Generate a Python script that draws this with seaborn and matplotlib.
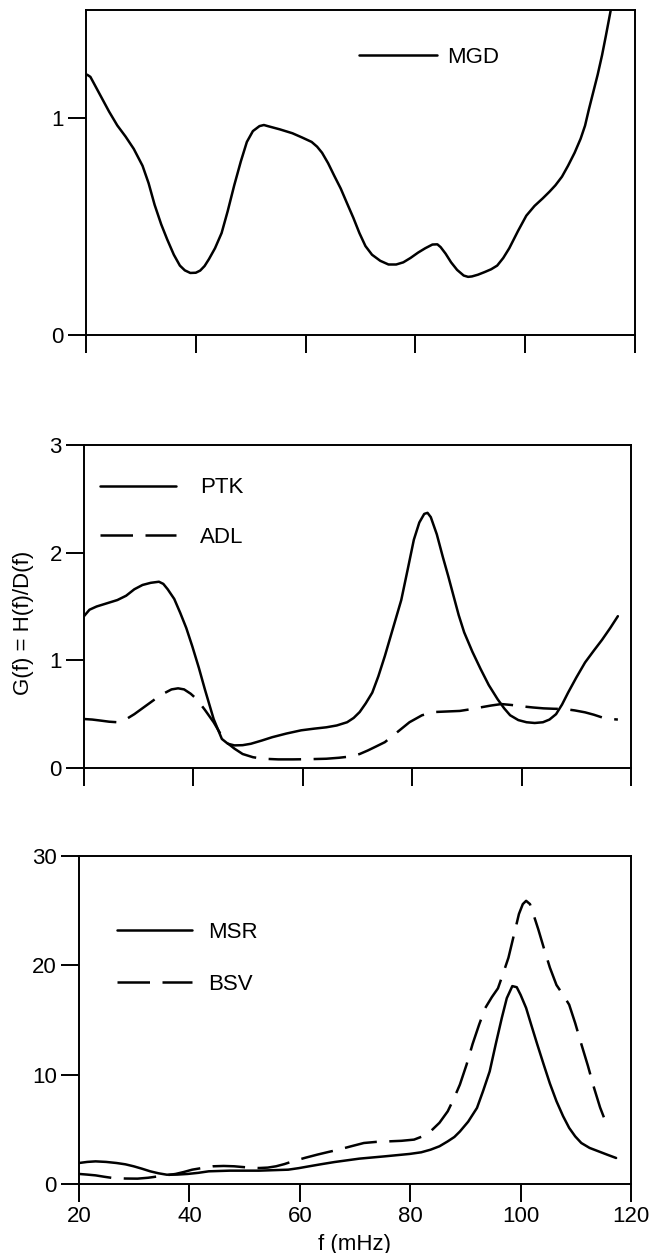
import matplotlib
matplotlib.use("Agg")
import matplotlib.pyplot as plt
import seaborn as sns

# ---- data: G(f) = H(f)/D(f) per subject, f in mHz ----
mgd_f = [20.2, 20.8, 22.5, 24.2, 25.7, 27.2, 28.7, 30.3, 31.4, 32.5, 33.7, 34.8, 36.0,
         37.1, 38.0, 39.0, 40.0, 40.8, 41.6, 42.4, 43.5, 44.7, 45.8, 47.0, 48.2,
         49.3, 50.4, 51.6, 52.4, 53.1, 55.3, 57.6, 59.4, 61.1, 62.1, 63.0, 64.1,
         65.2, 66.4, 67.5, 68.7, 69.8, 70.9, 72.1, 73.6, 75.1, 76.5, 77.8, 79.1,
         80.5, 81.8, 83.1, 84.0, 84.6, 85.5, 86.5, 87.6, 88.8, 89.6, 90.3, 91.4,
         92.6, 93.8, 94.9, 96.0, 97.1, 98.7, 100.2, 101.7, 103.2, 104.4, 105.5,
         106.7, 107.8, 109.0, 110.1, 110.9, 111.6, 112.4, 113.2, 114.0, 114.7,
         115.6, 116.5]
mgd_g = [1.20, 1.19, 1.11, 1.03, 0.966, 0.915, 0.858, 0.78, 0.70, 0.60, 0.51, 0.44, 0.37,
         0.32, 0.298, 0.286, 0.287, 0.297, 0.318, 0.35, 0.40, 0.47, 0.57, 0.69, 0.80,
         0.89, 0.94, 0.963, 0.968, 0.963, 0.948, 0.93, 0.91, 0.89, 0.868, 0.84, 0.792,
         0.735, 0.675, 0.61, 0.54, 0.47, 0.41, 0.37, 0.342, 0.325, 0.325, 0.335, 0.355,
         0.38, 0.40, 0.417, 0.418, 0.405, 0.375, 0.335, 0.30, 0.274, 0.268, 0.27, 0.278,
         0.29, 0.303, 0.32, 0.355, 0.40, 0.48, 0.55, 0.595, 0.63, 0.66, 0.69,
         0.73, 0.78, 0.84, 0.905, 0.965, 1.04, 1.12, 1.20, 1.29, 1.38,
         1.50, 1.62]

ptk_f = [20.0, 21.0, 22.3, 24.2, 26.1, 27.7, 29.2, 30.7, 32.2, 33.7, 34.5, 35.3, 36.5,
         37.6, 38.7, 39.8, 41.0, 42.1, 43.7, 45.2, 46.3, 47.5, 49.0, 50.5, 52.5, 54.4,
         57.0, 59.7, 62.0, 64.3, 66.2, 68.1, 69.3, 70.4, 71.5, 72.7, 73.8, 75.0, 76.5,
         78.0, 79.2, 80.3, 81.3, 82.2, 82.8, 83.4, 84.5, 85.6, 86.6, 87.6, 88.5, 89.5,
         91.0, 92.5, 94.0, 95.6, 96.8, 97.9, 99.4, 100.9, 102.4, 103.9, 105.1, 106.3,
         107.4, 108.5, 110.0, 111.6, 113.2, 114.7, 116.2, 117.6]
ptk_g = [1.41, 1.47, 1.50, 1.53, 1.56, 1.60, 1.66, 1.70, 1.72, 1.73, 1.71, 1.66, 1.57,
         1.44, 1.30, 1.13, 0.93, 0.73, 0.455, 0.27, 0.225, 0.21, 0.212, 0.225, 0.255, 0.286,
         0.32, 0.35, 0.365, 0.378, 0.395, 0.425, 0.465, 0.52, 0.60, 0.70, 0.85, 1.04, 1.30,
         1.56, 1.85, 2.12, 2.28, 2.36, 2.37, 2.33, 2.17, 1.96, 1.78, 1.59, 1.42, 1.26,
         1.08, 0.92, 0.77, 0.64, 0.555, 0.49, 0.445, 0.425, 0.418, 0.425, 0.45, 0.50,
         0.59, 0.70, 0.84, 0.98, 1.09, 1.19, 1.30, 1.41]

adl_f = [20.0, 21.5, 23.1, 24.6, 26.1, 27.6, 29.2, 31.1, 33.0, 34.5, 36.0, 37.2, 38.3,
         39.5, 40.6, 42.1, 43.7, 44.8, 46.0, 47.5, 49.0, 50.9, 52.8, 55.5, 58.2, 61.2,
         64.3, 66.6, 68.9, 70.4, 71.9, 73.4, 75.0, 77.2, 79.5, 81.8, 84.1, 86.4, 88.7,
         90.6, 92.5, 94.4, 96.3, 98.2, 100.2, 102.1, 104.0, 105.9, 107.8, 109.7, 111.6,
         113.2, 114.7, 116.2, 117.6]
adl_g = [0.455, 0.45, 0.44, 0.43, 0.425, 0.45, 0.50, 0.57, 0.64, 0.69, 0.73, 0.74, 0.73,
         0.69, 0.64, 0.54, 0.425, 0.33, 0.24, 0.18, 0.13, 0.10, 0.086, 0.08, 0.08, 0.082,
         0.086, 0.095, 0.108, 0.13, 0.163, 0.20, 0.24, 0.33, 0.425, 0.49, 0.52, 0.525, 0.53,
         0.545, 0.563, 0.58, 0.594, 0.585, 0.572, 0.562, 0.554, 0.55, 0.548, 0.535, 0.517,
         0.495, 0.47, 0.455, 0.45]

msr_f = [20.0, 21.5, 23.0, 24.9, 26.8, 28.4, 29.9, 31.4, 32.9, 34.4, 35.9, 37.8, 39.7,
         41.6, 43.5, 47.3, 52.6, 57.9, 59.8, 61.7, 64.0, 66.3, 70.8, 75.4, 79.9, 82.0,
         83.7, 85.3, 86.8, 88.0, 89.0, 90.5, 92.1, 93.2, 94.4, 95.5, 96.6, 97.5, 98.5,
         99.3, 100.0, 101.0, 101.9, 103.0, 104.2, 105.3, 106.5, 107.7, 108.8, 109.9,
         111.0, 112.5, 114.1, 115.7, 117.3]
msr_g = [1.92, 2.02, 2.07, 2.02, 1.92, 1.80, 1.62, 1.40, 1.16, 0.98, 0.85, 0.86, 0.92,
         1.02, 1.16, 1.22, 1.22, 1.31, 1.45, 1.62, 1.82, 2.01, 2.32, 2.53, 2.75, 2.90,
         3.14, 3.45, 3.90, 4.30, 4.80, 5.70, 6.96, 8.50, 10.3, 12.8, 15.2, 17.0, 18.1,
         18.0, 17.3, 16.1, 14.6, 12.8, 10.9, 9.2, 7.57, 6.20, 5.13, 4.35, 3.75, 3.30,
         2.99, 2.68, 2.38]

bsv_f = [20.0, 21.5, 23.0, 24.6, 26.1, 28.4, 30.6, 32.5, 34.4, 36.0, 37.5, 39.0, 40.5,
         42.4, 44.3, 46.2, 48.1, 50.4, 52.6, 54.2, 55.7, 57.2, 58.7, 61.0, 63.2, 65.1,
         67.0, 69.3, 71.6, 73.8, 76.1, 78.4, 80.7, 82.2, 83.7, 85.3, 86.8, 87.9, 89.0,
         90.2, 91.3, 92.5, 93.6, 94.8, 95.9, 96.8, 97.8, 98.8, 99.7, 100.4, 101.0, 101.7,
         102.3, 103.2, 104.2, 105.3, 106.5, 107.7, 108.8, 109.9, 111.0, 112.2, 113.3,
         114.4, 115.6]
bsv_g = [0.92, 0.86, 0.79, 0.66, 0.55, 0.50, 0.49, 0.57, 0.70, 0.81, 0.92, 1.10, 1.31,
         1.47, 1.62, 1.65, 1.62, 1.52, 1.46, 1.50, 1.62, 1.82, 2.07, 2.40, 2.69, 2.92,
         3.14, 3.45, 3.75, 3.85, 3.90, 3.95, 4.06, 4.35, 4.82, 5.60, 6.65, 7.80, 9.09,
         10.9, 12.8, 14.6, 16.1, 17.1, 17.9, 19.2, 20.7, 22.8, 24.7, 25.6, 25.9, 25.6,
         24.7, 23.3, 21.6, 19.8, 18.2, 17.3, 16.4, 14.7, 12.8, 10.8, 8.8, 7.0, 5.43]

freq_ticks = [20, 40, 60, 80, 100, 120]
ticks_top = [0, 1]
ticks_mid = [0, 1, 2, 3]
ticks_bot = [0, 10, 20, 30]

# ---- style ----
sns.set_style("ticks")
plt.rcParams["font.family"] = ["Liberation Sans", "DejaVu Sans"]
plt.rcParams["axes.linewidth"] = 1.4
plt.rcParams["text.color"] = "black"
plt.rcParams["axes.labelcolor"] = "black"
FS = 16
SOLID = "-"
DASHED = (0, (13, 5))
LW = 1.8

fig = plt.figure(figsize=(6.52, 12.53), dpi=100)
W, H = 652.0, 1253.0
ax1 = fig.add_axes([86 / W, 1 - 335 / H, (635 - 86) / W, (335 - 9.6) / H])
ax2 = fig.add_axes([84 / W, 1 - 768 / H, (631 - 84) / W, (768 - 445) / H])
ax3 = fig.add_axes([79 / W, 1 - 1184 / H, (631 - 79) / W, (1184 - 856) / H])

sns.lineplot(x=mgd_f, y=mgd_g, ax=ax1, color="black", lw=LW, linestyle=SOLID,
             label="MGD", sort=False, estimator=None)
sns.lineplot(x=ptk_f, y=ptk_g, ax=ax2, color="black", lw=LW, linestyle=SOLID,
             label="PTK", sort=False, estimator=None)
sns.lineplot(x=adl_f, y=adl_g, ax=ax2, color="black", lw=LW, linestyle=DASHED,
             label="ADL", sort=False, estimator=None)
sns.lineplot(x=msr_f, y=msr_g, ax=ax3, color="black", lw=LW, linestyle=SOLID,
             label="MSR", sort=False, estimator=None)
sns.lineplot(x=bsv_f, y=bsv_g, ax=ax3, color="black", lw=LW, linestyle=DASHED,
             label="BSV", sort=False, estimator=None)

for ax, yt, ylim in ((ax1, ticks_top, (0, 1.5)),
                     (ax2, ticks_mid, (0, 3)),
                     (ax3, ticks_bot, (0, 30))):
    ax.set_xlim(20, 120)
    ax.set_ylim(*ylim)
    ax.set_xticks(freq_ticks)
    ax.set_yticks(yt)
    ax.tick_params(direction="out", length=13, width=1.4, labelsize=FS,
                   color="black", labelcolor="black", pad=3)
    for s in ax.spines.values():
        s.set_visible(True)
        s.set_color("black")
    ax.set_xlabel("")
    ax.set_ylabel("")

ax1.tick_params(axis="x", labelbottom=False)
ax2.tick_params(axis="x", labelbottom=False)

ax2.set_ylabel("G(f) = H(f)/D(f)", fontsize=FS)
ax2.yaxis.set_label_coords(-0.092, 0.45)
ax3.set_xlabel("f (mHz)", fontsize=FS, labelpad=5)

common = dict(frameon=False, fontsize=FS, borderpad=0, borderaxespad=0,
              loc="center left")
ax1.legend(bbox_to_anchor=(0.498, 0.853), handlelength=3.5, handletextpad=0.45, **common)
ax2.legend(bbox_to_anchor=(0.030, 0.79), handlelength=3.4, handletextpad=1.1,
           labelspacing=1.3, **common)
ax3.legend(bbox_to_anchor=(0.068, 0.688), handlelength=3.4, handletextpad=0.7,
           labelspacing=1.4, **common)

fig.savefig("out.png", dpi=100, facecolor="white")
